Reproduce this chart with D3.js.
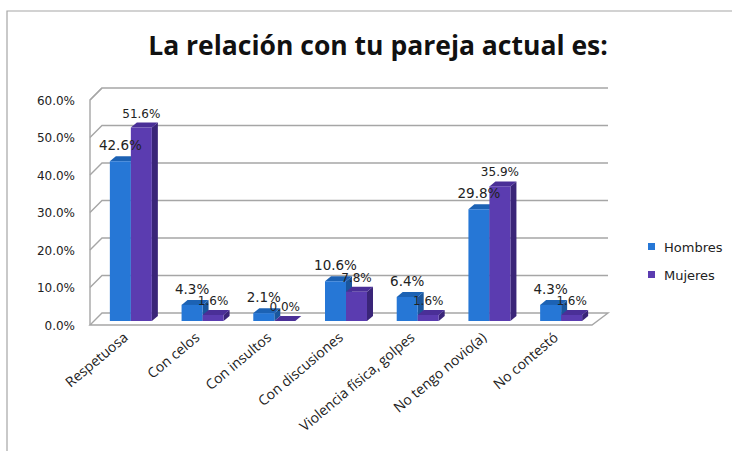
<!DOCTYPE html>
<html><head><meta charset="utf-8">
<script src="https://cdn.jsdelivr.net/npm/d3@7"></script>
<style>html,body{margin:0;padding:0;background:#fff;}svg{display:block;}</style>
</head><body>
<svg id="c" width="732" height="451"></svg>
<script>
const categories = ["Respetuosa","Con celos","Con insultos","Con discusiones","Violencia física, golpes","No tengo novio(a)","No contestó"];
const seriesNames = ["Hombres","Mujeres"];
const hombres = [42.6, 4.3, 2.1, 10.6, 6.4, 29.8, 4.3];
const mujeres = [51.6, 1.6, 0.0, 7.8, 1.6, 35.9, 1.6];
const yTicks = [0,10,20,30,40,50,60];
const title = "La relación con tu pareja actual es:";

const colors = {
  Hombres: {front:"#2677d6", top:"#1c62b4", side:"#1a569c"},
  Mujeres: {front:"#5b3cb0", top:"#4a2f97", side:"#3a2578"}
};

const svg = d3.select("#c");
// outer frame
svg.append("path").attr("d","M7,451V11H732").attr("fill","none").attr("stroke","#a6a6a6").attr("stroke-width",1.2);

svg.append("text").attr("x",378).attr("y",55).attr("text-anchor","middle")
  .attr("font-family","'Open Sans', sans-serif").attr("font-weight","700").attr("font-size",26.5)
  .attr("fill","#111").text(title);

const D = 12; // wall depth
const x = d3.scaleBand().domain(categories).range([90,592]);
const xs = d3.scaleBand().domain(seriesNames).range([0,42]);
const y = d3.scaleLinear().domain([0,60]).range([325,100]);

const grid = svg.append("g").attr("fill","none").attr("stroke","#a6a6a6").attr("stroke-width",1.4);
yTicks.forEach(t=>{
  if(t>0){
    grid.append("path").attr("d",`M${90},${y(t)}L${90+D},${y(t)-D}H608`);
  }
});
grid.append("path").attr("d",`M90,${y(0)}H592L608,${y(0)-D}H${90+D}Z`).attr("fill","#fff");
grid.append("path").attr("d",`M90,${y(0)}V${y(60)}L${90+D},${y(60)-D}`);

svg.append("g").selectAll("text").data(yTicks).join("text")
  .attr("x",75).attr("y",d=>y(d)+4.5).attr("text-anchor","end")
  .attr("font-family","'DejaVu Sans', sans-serif").attr("font-size",12).attr("fill","#222")
  .text(d=>d.toFixed(1)+"%");

const s0 = 4;
const bdx = 6, bdy = 5;
const data = [];
categories.forEach((c,i)=>{
  data.push({c, s:"Hombres", v:hombres[i]});
  data.push({c, s:"Mujeres", v:mujeres[i]});
});
const offset = (x.bandwidth()-42)/2 + s0 + 1;
const bars = svg.append("g");
data.forEach(d=>{
  const x0 = x(d.c) + offset + xs(d.s);
  const w = xs.bandwidth();
  const yb = y(0) - s0;
  const yt = y(d.v) - s0;
  const col = colors[d.s];
  const g = bars.append("g");
  g.append("path").attr("d",`M${x0+w},${yb}V${yt}L${x0+w+bdx},${yt-bdy}V${yb-bdy}Z`).attr("fill",col.side);
  g.append("path").attr("d",`M${x0},${yt}L${x0+bdx},${yt-bdy}H${x0+w+bdx}L${x0+w},${yt}Z`).attr("fill",col.top);
  g.append("rect").attr("x",x0).attr("y",yt).attr("width",w).attr("height",Math.max(0,yb-yt)).attr("fill",col.front);
});
data.forEach(d=>{
  const x0 = x(d.c) + offset + xs(d.s);
  const w = xs.bandwidth();
  const yt = y(d.v) - s0;
  svg.append("text").attr("x",x0+w/2).attr("y",yt-(d.s==="Hombres"?11:10))
    .attr("text-anchor","middle").attr("font-family","'DejaVu Sans', sans-serif")
    .attr("font-size",d.s==="Hombres"?13.5:12).attr("fill","#222")
    .text(d.v.toFixed(1)+"%");
});

svg.append("g").selectAll("text").data(categories).join("text")
  .attr("transform",d=>`translate(${x(d)+x.bandwidth()/2+3},${339}) rotate(-40)`)
  .attr("text-anchor","end").attr("font-family","'Open Sans', sans-serif").attr("font-size",14)
  .attr("fill","#222").text(d=>d);

const lg = svg.append("g");
seriesNames.forEach((s,i)=>{
  const yy = 247 + i*28;
  lg.append("rect").attr("x",648).attr("y",yy-4).attr("width",7).attr("height",7).attr("fill",colors[s].front);
  lg.append("text").attr("x",664).attr("y",yy+4.5).attr("font-family","'DejaVu Sans', sans-serif")
    .attr("font-size",13).attr("fill","#222").text(s);
});
</script>
</body></html>
